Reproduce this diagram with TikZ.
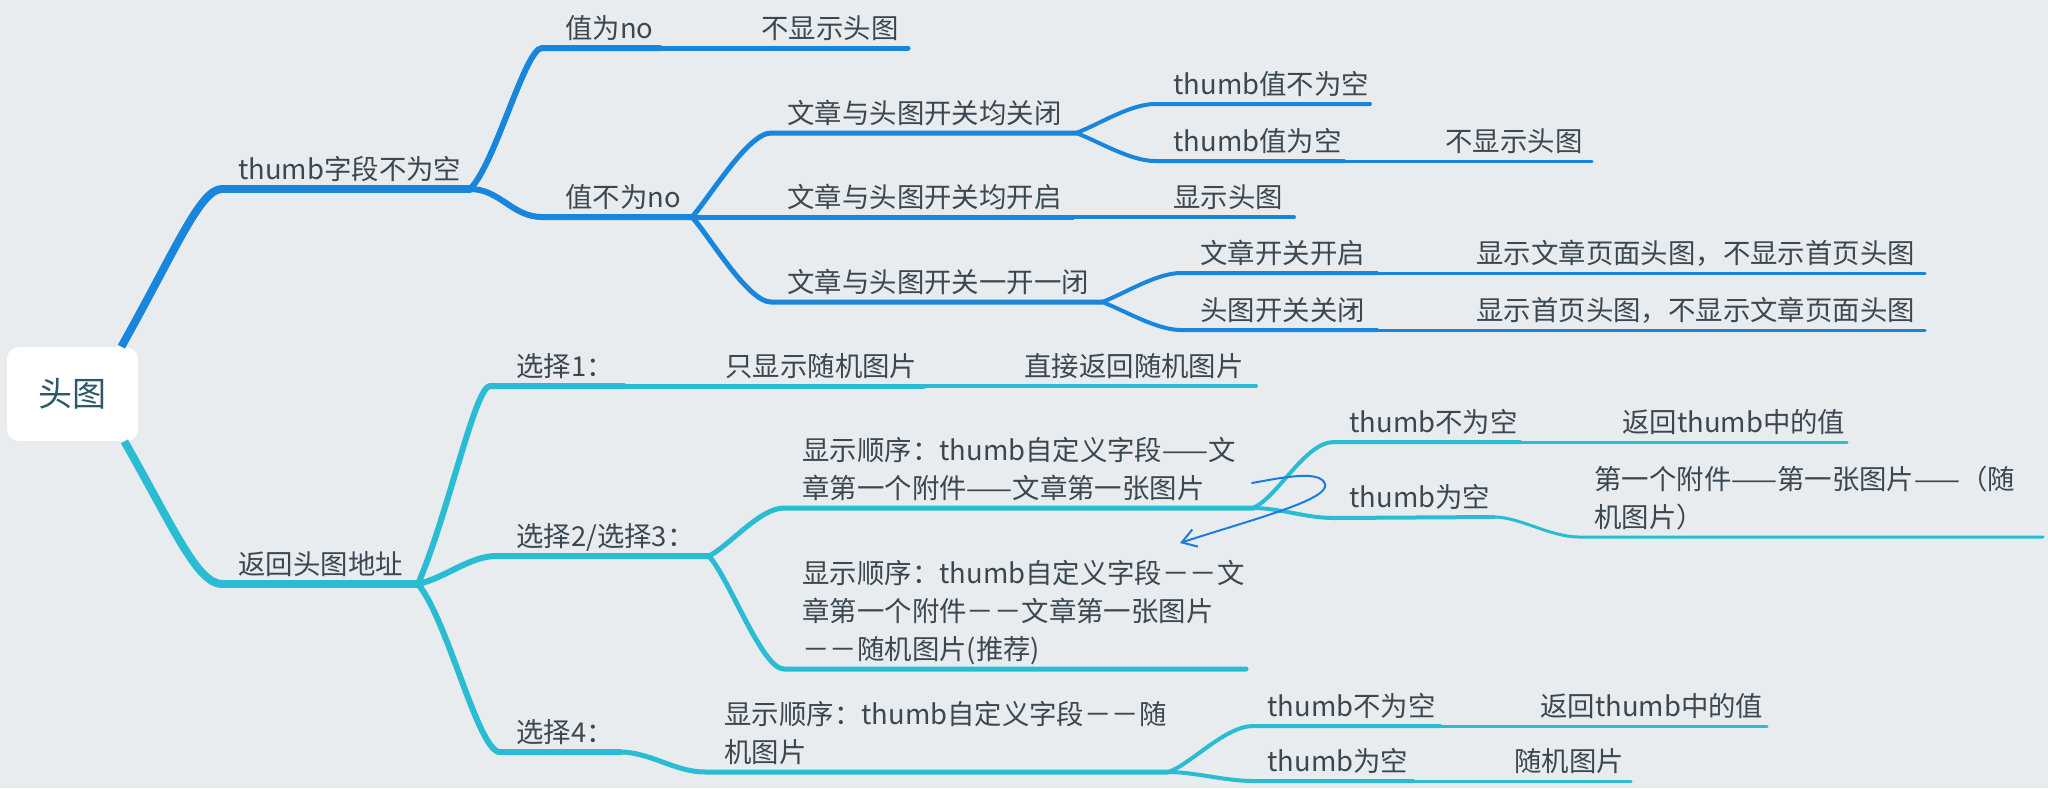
\documentclass[tikz,border=0pt]{standalone}
\usepackage{fontspec}
\setmainfont{Noto Sans CJK SC}
\usetikzlibrary{arrows.meta}
\definecolor{mapbg}{HTML}{E8ECEF}
\definecolor{maptext}{HTML}{3B4852}
\definecolor{roottext}{HTML}{2C5868}
\definecolor{headblue}{HTML}{1786DC}
\definecolor{headcyan}{HTML}{2ABCD2}
\definecolor{penblue}{HTML}{1B7BE0}
\newcommand\mapfont{\fontsize{13.7pt}{19pt}\selectfont}

\tikzset{
  topic/.style={anchor=base west, inner sep=0pt, text=maptext, font=\mapfont, align=left},
  rootbox/.style={fill=white, rounded corners=6pt, minimum width=65.5pt, minimum height=47pt,
    inner sep=0pt, text=roottext, font=\fontsize{17pt}{20pt}\selectfont},
  lvone/.style={line width=4pt, line cap=butt},
  lvtwo/.style={line width=3pt, line cap=round},
  lvthree/.style={line width=2.5pt, line cap=round},
  lvfour/.style={line width=2pt, line cap=round},
  lvfive/.style={line width=1.5pt, line cap=round},
  penarrow/.style={penblue, line width=1pt, line cap=round, -{Straight Barb[length=7pt,width=9pt]}}
}

\begin{document}
\begin{tikzpicture}[x=0.5pt,y=-0.5pt]
% Background
\fill[mapbg] (0,0) rectangle (2048,788);
\useasboundingbox (0,0) rectangle (2048,788);
% Root
\node[rootbox] (root) at (72.5,394) {头图};
%
% Line ends, first branch
\coordinate (thumbsetS) at (222,189);  \coordinate (thumbsetE) at (470,189);
\coordinate (isnoS) at (542,48);       \coordinate (isnoE) at (660,48);
\coordinate (noheadE) at (908,48);
\coordinate (notnoS) at (542,217);     \coordinate (notnoE) at (692,217);
\coordinate (bothoffS) at (771,133);   \coordinate (bothoffE) at (1076,133);
\coordinate (bothonE) at (1073,217);
\coordinate (oneonS) at (771,302);     \coordinate (oneonE) at (1102,302);
\coordinate (tvsetS) at (1155,104);    \coordinate (tvsetE) at (1370,104);
\coordinate (tvemptyS) at (1155,161);  \coordinate (tvemptyE) at (1344,161);
\coordinate (tvnoheadE) at (1592,161);
\coordinate (showheadE) at (1294,217);
\coordinate (postonS) at (1181,273);   \coordinate (postonE) at (1377,273);
\coordinate (postonlyE) at (1925,273);
\coordinate (headoffS) at (1181,330);  \coordinate (headoffE) at (1377,330);
\coordinate (homeonlyE) at (1925,330);
% Line ends, second branch
\coordinate (retaddrS) at (222,584);   \coordinate (retaddrE) at (418,584);
\coordinate (optaS) at (490,386);      \coordinate (optaE) at (624,386);
\coordinate (randonlyE) at (924,386);  \coordinate (randretE) at (1256,386);
\coordinate (optbS) at (496,556);      \coordinate (optbE) at (709,556);
\coordinate (orderbS) at (784,508);    \coordinate (orderbE) at (1253,508);
\coordinate (bsetS) at (1334,442);     \coordinate (bsetE) at (1520,442);
\coordinate (bvalE) at (1847,442);
\coordinate (bemptyS) at (1334,518);   \coordinate (bemptyE) at (1494,517);
\coordinate (bchainS) at (1579,537);   \coordinate (bchainE) at (2043,537);
\coordinate (ordercS) at (784,669);    \coordinate (ordercE) at (1246,669);
\coordinate (optdS) at (500,752);      \coordinate (optdE) at (620,752);
\coordinate (orderdS) at (705,772);    \coordinate (orderdE) at (1168,772);
\coordinate (dsetS) at (1253,726);     \coordinate (dsetE) at (1440,726);
\coordinate (dvalE) at (1767,726);
\coordinate (demptyS) at (1253,781);   \coordinate (demptyE) at (1413,781);
\coordinate (drandE) at (1631,781);
%
% Topics, first branch
\node[topic] (thumbset) at (238,179.5) {thumb字段不为空};
\node[topic] (isno) at (565,38.5) {值为no};
\node[topic] (nohead) at (761,38.5) {不显示头图};
\node[topic] (notno) at (565,207.5) {值不为no};
\node[topic] (bothoff) at (787,123.5) {文章与头图开关均关闭};
\node[topic] (bothon) at (787,207.5) {文章与头图开关均开启};
\node[topic] (oneon) at (787,292.5) {文章与头图开关一开一闭};
\node[topic] (tvset) at (1173,94.5) {thumb值不为空};
\node[topic] (tvempty) at (1173,151.5) {thumb值为空};
\node[topic] (tvnohead) at (1445,151.5) {不显示头图};
\node[topic] (showhead) at (1173,207.5) {显示头图};
\node[topic] (poston) at (1200,263.5) {文章开关开启};
\node[topic] (postonly) at (1476,263.5) {显示文章页面头图，不显示首页头图};
\node[topic] (headoff) at (1200,320.5) {头图开关关闭};
\node[topic] (homeonly) at (1476,320.5) {显示首页头图，不显示文章页面头图};
% Topics, second branch
\node[topic] (retaddr) at (238,574.5) {返回头图地址};
\node[topic] (opta) at (516,376.5) {选择1：};
\node[topic] (randonly) at (725,376.5) {只显示随机图片};
\node[topic] (randret) at (1024,376.5) {直接返回随机图片};
\node[topic] (optb) at (516,546.5) {选择2/选择3：};
\node[topic] (orderb) at (802,498.5) {显示顺序：thumb自定义字段——文\\章第一个附件——文章第一张图片};
\node[topic] (bset) at (1349,432.5) {thumb不为空};
\node[topic] (bval) at (1622,432.5) {返回thumb中的值};
\node[topic] (bempty) at (1349,507.5) {thumb为空};
\node[topic] (bchain) at (1594,527.5) {第一个附件——第一张图片——（随\\机图片）};
\node[topic] (orderc) at (802,659.5) {显示顺序：thumb自定义字段－－文\\章第一个附件－－文章第一张图片\\－－随机图片(推荐)};
\node[topic] (optd) at (516,742.5) {选择4：};
\node[topic] (orderd) at (724,762.5) {显示顺序：thumb自定义字段－－随\\机图片};
\node[topic] (dset) at (1267,716.5) {thumb不为空};
\node[topic] (dval) at (1540,716.5) {返回thumb中的值};
\node[topic] (dempty) at (1267,771.5) {thumb为空};
\node[topic] (drand) at (1514,771.5) {随机图片};
%
% First branch lines
\begin{scope}[headblue]
  \draw[lvone] ([xshift=-8.5pt]root.north east) .. controls +(54,-96) and +(-22,0) .. (thumbsetS);
  \draw[lvone, line cap=round] (thumbsetS) -- (thumbsetE);
  \draw[lvtwo] (thumbsetE) .. controls +(25,-24) and +(-17,0) .. (isnoS) -- (isnoE);
  \draw[lvtwo] (thumbsetE) .. controls +(30,0) and +(-30,0) .. (notnoS) -- (notnoE);
  \draw[lvthree] (isnoE) -- (noheadE);
  \draw[lvthree] (notnoE) .. controls +(18,-20) and +(-23,0) .. (bothoffS) -- (bothoffE);
  \draw[lvthree] (notnoE) -- (bothonE);
  \draw[lvthree] (notnoE) .. controls +(18,20) and +(-23,0) .. (oneonS) -- (oneonE);
  \draw[lvfour] (bothoffE) .. controls +(22,-8) and +(-25,0) .. (tvsetS) -- (tvsetE);
  \draw[lvfour] (bothoffE) .. controls +(22,8) and +(-25,0) .. (tvemptyS) -- (tvemptyE);
  \draw[lvfive] (tvemptyE) -- (tvnoheadE);
  \draw[lvfour] (bothonE) -- (showheadE);
  \draw[lvfour] (oneonE) .. controls +(22,-8) and +(-25,0) .. (postonS) -- (postonE);
  \draw[lvfour] (oneonE) .. controls +(22,8) and +(-25,0) .. (headoffS) -- (headoffE);
  \draw[lvfive] (postonE) -- (postonlyE);
  \draw[lvfive] (headoffE) -- (homeonlyE);
\end{scope}
% Second branch lines
\begin{scope}[headcyan]
  \draw[lvone] ([xshift=-7pt]root.south east) .. controls +(48,84) and +(-25,0) .. (retaddrS);
  \draw[lvone, line cap=round] (retaddrS) -- (retaddrE);
  \draw[lvtwo] (retaddrE) .. controls +(30,-69) and +(-15,0) .. (optaS) -- (optaE);
  \draw[lvtwo] (retaddrE) .. controls +(27,-6) and +(-26,0) .. (optbS) -- (optbE);
  \draw[lvtwo] (retaddrE) .. controls +(30,36) and +(-22,0) .. (optdS) -- (optdE);
  \draw[lvthree] (optaE) -- (randonlyE);
  \draw[lvfour] (randonlyE) -- (randretE);
  \draw[lvthree] (optbE) .. controls +(21,-11) and +(-24,0) .. (orderbS) -- (orderbE);
  \draw[lvthree] (optbE) .. controls +(21,24) and +(-22,0) .. (ordercS) -- (ordercE);
  \draw[lvfour] (orderbE) .. controls +(25,-11) and +(-29,0) .. (bsetS) -- (bsetE);
  \draw[lvfour] (orderbE) .. controls +(27,0) and +(-29,0) .. (bemptyS) -- (bemptyE);
  \draw[lvfive] (bsetE) -- (bvalE);
  \draw[lvfive] (bemptyE) .. controls +(26,0) and +(-29,0) .. (bchainS) -- (bchainE);
  \draw[lvthree] (optdE) .. controls +(30,0) and +(-30,0) .. (orderdS) -- (orderdE);
  \draw[lvfour] (orderdE) .. controls +(22,-7) and +(-28,0) .. (dsetS) -- (dsetE);
  \draw[lvfour] (orderdE) .. controls +(27,0) and +(-28,0) .. (demptyS) -- (demptyE);
  \draw[lvfive] (dsetE) -- (dvalE);
  \draw[lvfive] (demptyE) -- (drandE);
\end{scope}
%
% Hand drawn arrow
\coordinate (penfrom) at (1252,483);
\coordinate (pento) at (1180,543);
\draw[penarrow] (penfrom) .. controls (1285,477) and (1320,470) .. (1325,484)
  .. controls (1330,500) and (1250,520) .. (pento);
\end{tikzpicture}
\end{document}
